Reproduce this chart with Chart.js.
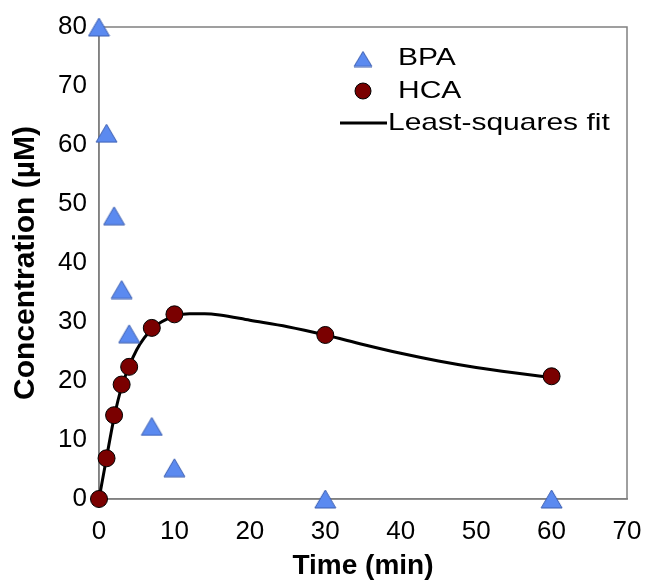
<!DOCTYPE html>
<html>
<head>
<meta charset="utf-8">
<script src="https://cdn.jsdelivr.net/npm/chart.js@4/dist/chart.umd.min.js"></script>
<style>
  html, body { margin: 0; padding: 0; background: #fff; }
  #wrap { width: 647px; height: 583px; }
</style>
</head>
<body>
<div id="wrap"><canvas id="chart" width="647" height="583"></canvas></div>
<script>
// BPA measurements
const bpaTime = [0, 1, 2, 3, 4, 7, 10, 30, 60];
const bpaConc = [80, 62, 48, 35.5, 28, 12.3, 5.3, 0, 0];
// HCA measurements
const hcaTime = [0, 1, 2, 3, 4, 7, 10, 30, 60];
const hcaConc = [0, 6.9, 14.2, 19.4, 22.4, 29, 31.3, 27.8, 20.8];
// fitted curve
const fitTime = [0, 1, 2, 3, 4, 5, 6, 7, 8, 9, 10, 12, 14, 16, 20, 25, 30, 35, 40, 45, 50, 55, 60];
const fitConc = [0, 7, 13.8, 19, 22.5, 25.3, 27.3, 28.8, 29.8, 30.5, 31, 31.4, 31.4, 31.2, 30.3, 29.2, 27.8, 26.2, 24.7, 23.4, 22.3, 21.4, 20.6];

const xTicks = [0, 10, 20, 30, 40, 50, 60, 70];
const yTicks = [0, 10, 20, 30, 40, 50, 60, 70, 80];

const FONT = "'Liberation Sans', Arial, sans-serif";
const BPA_FILL = '#5b8af0';
const BPA_EDGE = '#3d5fb0';

const toPts = (xs, ys) => xs.map((x, i) => ({ x: x, y: ys[i] }));

// triangle marker centred on its box, like the original
function makeTriangle(w, h) {
    const c = document.createElement('canvas');
    c.width = w + 2;
    c.height = h + 2;
    const g = c.getContext('2d');
    g.fillStyle = BPA_FILL;
    g.strokeStyle = BPA_EDGE;
    g.lineWidth = 1;
    g.beginPath();
    g.moveTo(1, h + 1);
    g.lineTo(w + 1, h + 1);
    g.lineTo(w / 2 + 1, 1);
    g.closePath();
    g.fill();
    g.stroke();
    return c;
}
const triMarker = makeTriangle(21, 18);
const triLegend = makeTriangle(18, 15);

// gray box round the plot area
const frame = {
    id: 'frame',
    beforeDatasetsDraw(chart) {
        const { ctx, chartArea: a } = chart;
        ctx.save();
        ctx.strokeStyle = '#808080';
        ctx.lineWidth = 1.5;
        ctx.strokeRect(a.left, a.top, a.right - a.left, a.bottom - a.top);
        ctx.restore();
    }
};

// the text in the original is a little wider than it is tall
function wideText(ctx, text, x, y) {
    ctx.save();
    ctx.translate(x, y);
    ctx.scale(1.25, 1);
    ctx.fillText(text, 0, 0);
    ctx.restore();
}

// legend inside the plot, top right
const insideLegend = {
    id: 'insideLegend',
    afterDraw(chart) {
        const ctx = chart.ctx;
        const ds = chart.data.datasets;
        const mx = 363, tx = 398;
        const rows = [58, 91, 123];
        ctx.save();
        ctx.drawImage(triLegend, mx - triLegend.width / 2, rows[0] - triLegend.height / 2 + 1);
        ctx.lineWidth = 1;
        ctx.fillStyle = ds[1].backgroundColor;
        ctx.strokeStyle = ds[1].borderColor;
        Chart.helpers.drawPoint(ctx, { pointStyle: 'circle', radius: 8, borderWidth: 1 }, mx, rows[1]);
        ctx.strokeStyle = ds[2].borderColor;
        ctx.lineWidth = 3;
        ctx.beginPath();
        ctx.moveTo(340, rows[2]);
        ctx.lineTo(387, rows[2]);
        ctx.stroke();
        ctx.font = '24px ' + FONT;
        ctx.fillStyle = '#000';
        ctx.textBaseline = 'middle';
        wideText(ctx, ds[0].label, tx, rows[0]);
        wideText(ctx, ds[1].label, tx, rows[1]);
        wideText(ctx, ds[2].label, 388, rows[2]);
        ctx.restore();
    }
};

new Chart(document.getElementById('chart').getContext('2d'), {
    type: 'scatter',
    data: {
        datasets: [
            {
                label: 'BPA',
                data: toPts(bpaTime, bpaConc),
                pointStyle: triMarker,
                backgroundColor: BPA_FILL,
                borderColor: BPA_EDGE,
                clip: false
            },
            {
                label: 'HCA',
                data: toPts(hcaTime, hcaConc),
                pointStyle: 'circle',
                pointRadius: 8.5,
                pointHoverRadius: 8.5,
                backgroundColor: '#7a0000',
                borderColor: '#000',
                borderWidth: 1,
                clip: false
            },
            {
                label: 'Least-squares fit',
                data: toPts(fitTime, fitConc),
                showLine: true,
                pointRadius: 0,
                borderColor: '#000',
                borderWidth: 3,
                cubicInterpolationMode: 'monotone',
                fill: false,
                clip: false
            }
        ]
    },
    options: {
        responsive: false,
        animation: false,
        layout: { padding: { left: 0, top: 27, right: 20, bottom: 0 } },
        plugins: {
            legend: { display: false },
            tooltip: { enabled: false }
        },
        scales: {
            x: {
                type: 'linear',
                min: 0,
                max: 70,
                afterBuildTicks: (s) => { s.ticks = xTicks.map(v => ({ value: v })); },
                afterFit: (s) => { s.height = 84; s.paddingRight = 0; s.paddingLeft = 0; },
                grid: { display: false },
                border: { display: true, color: '#808080', width: 1.5 },
                ticks: {
                    color: '#000',
                    padding: 9,
                    maxRotation: 0,
                    font: { family: FONT, size: 26 }
                },
                title: {
                    display: true,
                    text: 'Time (min)',
                    color: '#000',
                    padding: { top: 0, bottom: 0 },
                    font: { family: FONT, size: 28, weight: 'bold' }
                }
            },
            y: {
                type: 'linear',
                min: 0,
                max: 80,
                afterBuildTicks: (s) => { s.ticks = yTicks.map(v => ({ value: v })); },
                afterFit: (s) => { s.width = 99; },
                grid: { display: false },
                border: { display: true, color: '#808080', width: 1.5 },
                ticks: {
                    color: '#000',
                    padding: 4,
                    font: { family: FONT, size: 26 }
                },
                title: {
                    display: true,
                    text: 'Concentration (µM)',
                    color: '#000',
                    padding: { top: 8, bottom: 0 },
                    font: { family: FONT, size: 30, weight: 'bold' }
                }
            }
        }
    },
    plugins: [frame, insideLegend]
});
</script>
</body>
</html>
